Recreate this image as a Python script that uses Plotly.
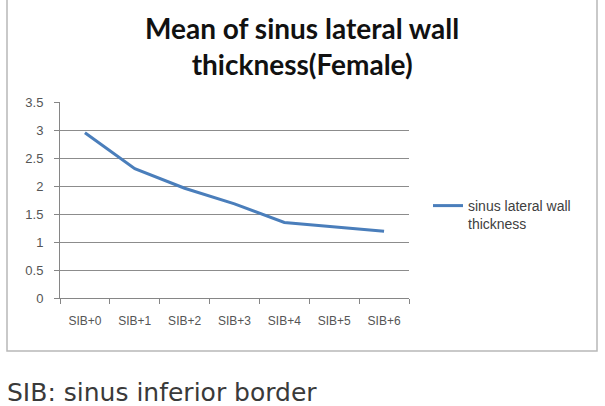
import plotly.graph_objects as go

categories = ["SIB+0", "SIB+1", "SIB+2", "SIB+3", "SIB+4", "SIB+5", "SIB+6"]
values = [2.95, 2.31, 1.96, 1.68, 1.35, 1.27, 1.19]
series_name = "sinus lateral wall<br>thickness"
y_ticks = [0, 0.5, 1, 1.5, 2, 2.5, 3, 3.5]
y_tick_labels = ["0", "0.5", "1", "1.5", "2", "2.5", "3", "3.5"]
title_text = "Mean of sinus lateral wall<br>thickness(Female)"
footer_text = "SIB: sinus inferior border"

W, H = 605, 406
L, R, T, B = 60, 409, 102, 298  # plot area in pixels


def px_x(p):
    return (p - L) / (R - L)


def px_y(p):
    return (B - p) / (B - T)


fig = go.Figure()
fig.add_trace(go.Scatter(
    x=categories, y=values, mode="lines", name=series_name,
    line=dict(color="#4a7ebb", width=3), showlegend=True,
))

fig.update_layout(
    width=W, height=H,
    margin=dict(l=L, r=W - R, t=T, b=H - B),
    paper_bgcolor="white", plot_bgcolor="white",
    xaxis=dict(type="category", showgrid=False, showline=True, linecolor="#868686",
               linewidth=1, ticks="outside", tickson="boundaries", ticklen=5,
               tickcolor="#868686", ticklabelstandoff=12,
               tickfont=dict(family="Liberation Sans", size=12, color="#555555"),
               range=[-0.5, 6.5]),
    yaxis=dict(range=[0, 3.5], tickvals=y_ticks, ticktext=y_tick_labels,
               showgrid=True, gridcolor="#8c8c8c", gridwidth=1, showline=True,
               linecolor="#868686", ticks="outside", ticklen=5, tickcolor="#868686",
               zeroline=False, ticklabelstandoff=8,
               tickfont=dict(family="Liberation Sans", size=13, color="#555555")),
    legend=dict(x=px_x(428), y=px_y(190), xanchor="left", yanchor="top",
                xref="paper", yref="paper", valign="top",
                font=dict(family="Liberation Sans", size=14, color="#404040"),
                bgcolor="rgba(0,0,0,0)", itemwidth=30),
    showlegend=True,
)

fig.add_shape(type="rect", xref="paper", yref="paper",
              x0=px_x(7), x1=px_x(597), y0=px_y(351), y1=px_y(-3),
              line=dict(color="#b8b8b8", width=1.5), fillcolor="rgba(0,0,0,0)", layer="below")

fig.add_annotation(text=title_text, xref="paper", yref="paper",
                   x=px_x(302), y=px_y(46), xanchor="center", yanchor="middle",
                   showarrow=False,
                   font=dict(family="Lato", size=28, color="#111111", weight="bold"))

fig.add_annotation(text=footer_text, xref="paper", yref="paper",
                   x=px_x(5), y=px_y(392), xanchor="left", yanchor="middle",
                   showarrow=False,
                   font=dict(family="DejaVu Sans", size=25, color="#3a3a3a"))

fig.write_html("out.html")
